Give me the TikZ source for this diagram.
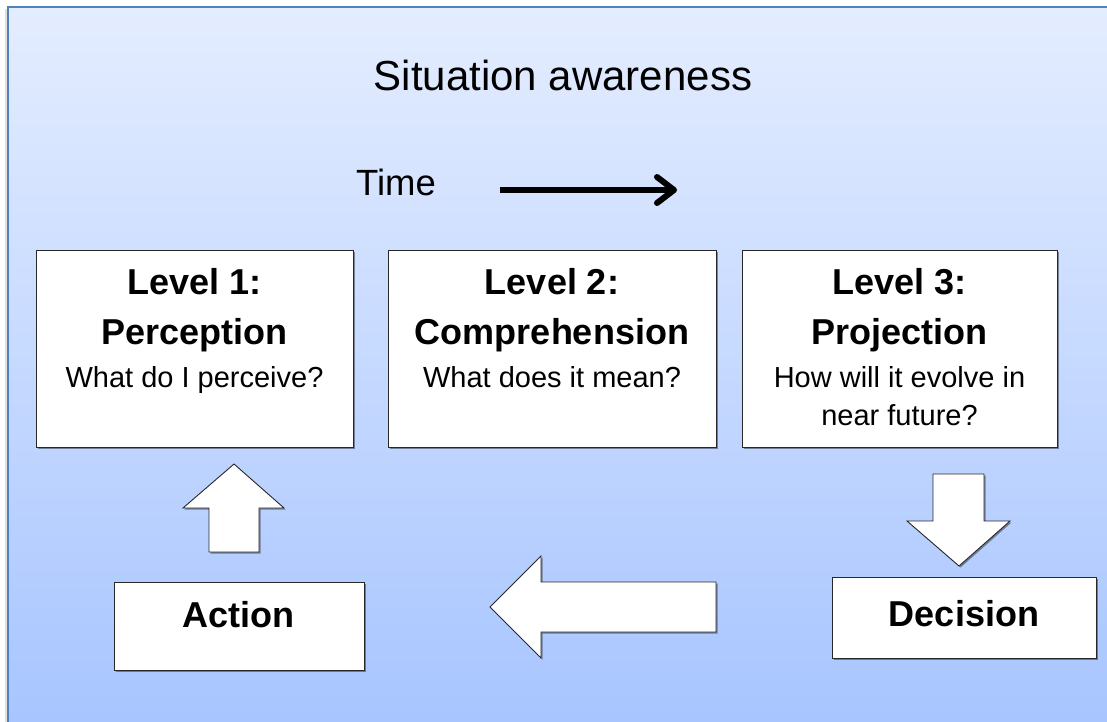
\documentclass[tikz,border=0pt]{standalone}
\usepackage{fontspec}
\setmainfont{Liberation Sans}
\usetikzlibrary{arrows.meta,shadows}
\definecolor{bgtop}{RGB}{228,237,255}
\definecolor{bgbot}{RGB}{166,196,255}
\definecolor{framecol}{RGB}{79,129,189}
\definecolor{boxline}{RGB}{40,40,40}
\begin{document}
\begin{tikzpicture}[x=1pt,y=-1pt,
  shad/.style={drop shadow={shadow xshift=1.5pt, shadow yshift=-1.5pt, fill=black, opacity=0.4}},
  box/.style={draw=boxline, line width=1pt, fill=white, inner sep=0pt, shad},
  blockarrow/.style={draw=boxline, line width=0.9pt, fill=white, line join=miter, shad},
  head/.style={anchor=base, font=\fontsize{36}{40}\selectfont\bfseries},
  sub/.style={anchor=base, font=\fontsize{29}{34}\selectfont}]
\useasboundingbox (0,0) rectangle (1107,721);
\fill[white] (0,0) rectangle (1107,721);
% outer frame
\fill[black!12] (4.5,9) rectangle (8,740);
\draw[draw=framecol, line width=2pt, top color=bgtop, bottom color=bgbot] (8,7) rectangle (1120,740);

% title and time
\node[anchor=base, font=\fontsize{42}{46}\selectfont] (title) at (563,90) {Situation awareness};
\node[anchor=base, font=\fontsize{36.5}{40}\selectfont] (time) at (396,195) {Time};
\coordinate (ts) at (500,190);
\coordinate (te) at (677,190);
\draw[line width=6pt, -{Straight Barb[length=17pt 0 0, width=26pt 0 0, round]}] (ts) -- (te);

% level boxes
\node[box, minimum width=317pt, minimum height=197pt] (l1) at (194.5,348.5) {};
\node[box, minimum width=328pt, minimum height=197pt] (l2) at (552,348.5) {};
\node[box, minimum width=315pt, minimum height=197pt] (l3) at (899.5,348.5) {};

\node[head] (l1a) at (194.5,294) {Level 1:};
\node[head] (l1b) at (194.5,344) {Perception};
\node[sub]  (l1c) at (194.5,387) {What do I perceive?};

\node[head] (l2a) at (552,294) {Level 2:};
\node[head] (l2b) at (552,344) {Comprehension};
\node[sub]  (l2c) at (552,387) {What does it mean?};

\node[head] (l3a) at (899.5,294) {Level 3:};
\node[head] (l3b) at (899.5,344) {Projection};
\node[sub]  (l3c) at (899.5,387) {How will it evolve in};
\node[sub]  (l3d) at (899.5,425) {near future?};

% action and decision boxes
\node[box, minimum width=250pt, minimum height=88pt] (act) at (239,626) {};
\node[head] (actt) at (238.5,627) {Action};
\node[box, minimum width=264pt, minimum height=81pt] (dec) at (964,617.5) {};
\node[head] (dect) at (964,626) {Decision};

% block arrows
\draw[blockarrow] (234,464) -- (284,508) -- (259,508) -- (259,552) -- (209,552) -- (209,508) -- (183,508) -- cycle;
\draw[blockarrow] (933,474) -- (984,474) -- (984,521) -- (1010,521) -- (959,566) -- (907,521) -- (933,521) -- cycle;
\draw[blockarrow] (490,607) -- (541,556) -- (541,582) -- (716,582) -- (716,632) -- (541,632) -- (541,658) -- cycle;
\end{tikzpicture}
\end{document}
